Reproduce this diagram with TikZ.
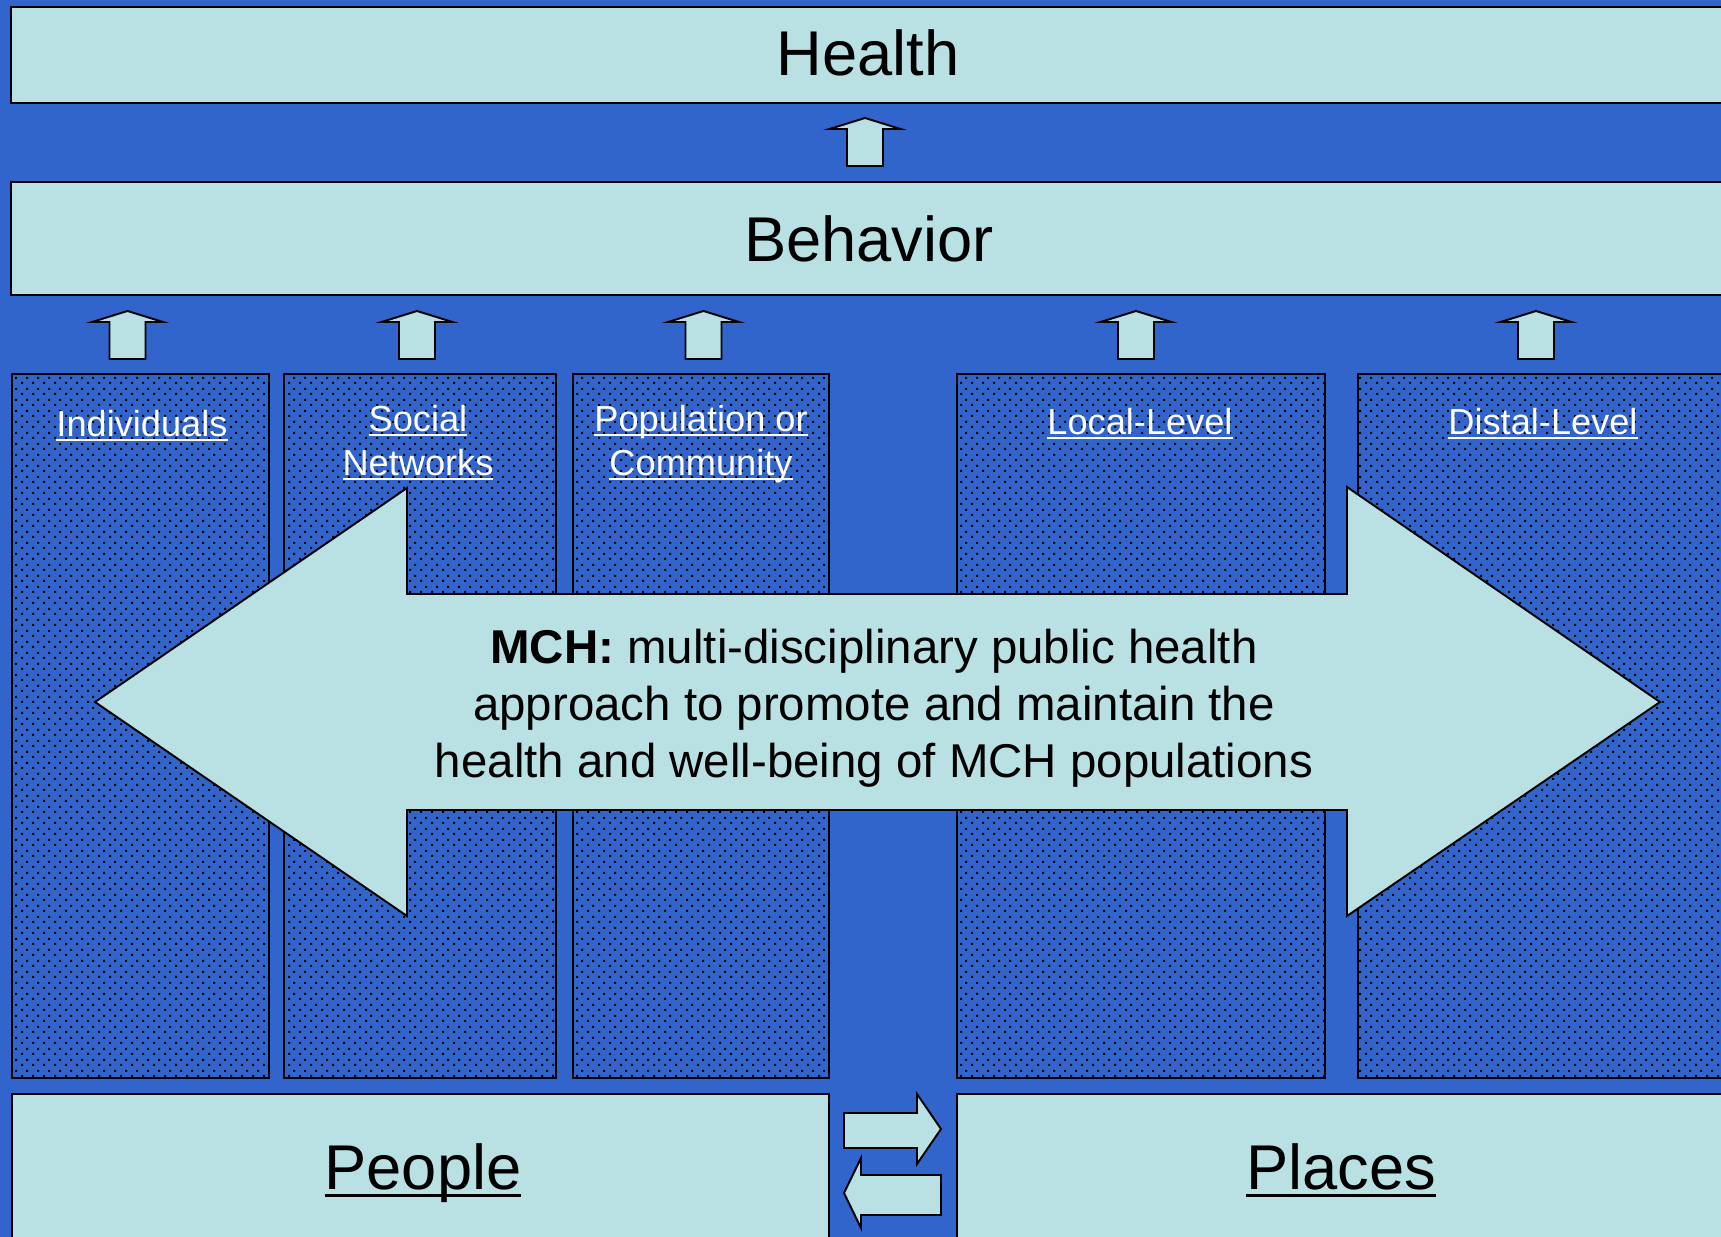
\documentclass[tikz,border=0pt]{standalone}
\usepackage{fontspec}
\setmainfont{Liberation Sans}
\usetikzlibrary{patterns}

\definecolor{mchblue}{RGB}{49,101,203}
\definecolor{mchpale}{RGB}{185,224,226}

\pgfdeclarepatternformonly{mchdots}{\pgfqpoint{0pt}{0pt}}{\pgfqpoint{6.07pt}{6.07pt}}{\pgfqpoint{6.07pt}{6.07pt}}{%
  \pgfpathrectangle{\pgfqpoint{0pt}{0pt}}{\pgfqpoint{1.2pt}{1.2pt}}%
  \pgfpathrectangle{\pgfqpoint{3.03pt}{3.03pt}}{\pgfqpoint{1.2pt}{1.2pt}}%
  \pgfusepath{fill}}

\newsavebox{\undlbox}
\newcommand{\undl}[1]{\leavevmode\sbox{\undlbox}{#1}%
  \rlap{\vrule height -0.08em depth 0.13em width \wd\undlbox}\usebox{\undlbox}}

\begin{document}
\begin{tikzpicture}[x=0.02cm,y=-0.02cm,line width=1.1pt,line join=miter,
        bar/.style={draw=black,fill=mchpale},
        column/.style={draw=black,pattern=mchdots,pattern color=black},
        blockarrow/.style={draw=black,fill=mchpale},
        title/.style={font=\fontsize{36}{40}\selectfont,anchor=base},
        level/.style={font=\fontsize{20.6}{25}\selectfont,text=white,align=center,anchor=base},
        uparrow/.pic={\draw[blockarrow] (0,0) -- (35.5,11) -- (18,11) -- (18,48)
                        -- (-18,48) -- (-18,11) -- (-35.5,11) -- cycle;}]

  \useasboundingbox[fill=mchblue] (0,0) rectangle (1721,1237);
  \clip (0,0) rectangle (1721,1237);

  % health and behavior
  \draw[bar] (11,7) rectangle (1740,103);
  \node[title] (health) at (868,76) {Health};
  \pic at (865,118) {uparrow};
  \draw[bar] (11,182) rectangle (1740,295);
  \node[title] (behavior) at (869,261) {Behavior};

  % levels
  \draw[column] (12,374) rectangle (269,1078);
  \draw[column] (284,374) rectangle (556,1078);
  \draw[column] (573,374) rectangle (829,1078);
  \draw[column] (957,374) rectangle (1325,1078);
  \draw[column] (1358,374) rectangle (1740,1078);

  \pic at (127.5,311) {uparrow};
  \pic at (417,311) {uparrow};
  \pic at (703.5,311) {uparrow};
  \pic at (1136,311) {uparrow};
  \pic at (1536,311) {uparrow};

  \node[level] (indiv) at (142,436) {\undl{Individuals}};
  \node[level] (social) at (418,475) {\undl{Social}\\\undl{Networks}};
  \node[level] (popul) at (701,475) {\undl{Population or}\\\undl{Community}};
  \node[level] (local) at (1140,434) {\undl{Local-Level}};
  \node[level] (distal) at (1543,434) {\undl{Distal-Level}};

  % MCH arrow
  \draw[blockarrow] (95,702) -- (407,488) -- (407,594) -- (1347,594) -- (1347,487)
        -- (1660,702) -- (1347,916) -- (1347,810) -- (407,810) -- (407,916) -- cycle;
  \node[font=\fontsize{27}{32.3}\selectfont,align=center,anchor=base] (mch) at (874,777)
        {\textbf{MCH:} multi-disciplinary public health\\approach to promote and maintain the\\health and well-being of MCH populations};

  % people and places
  \draw[bar] (12,1094) rectangle (829,1250);
  \draw[bar] (957,1094) rectangle (1740,1250);
  \node[title] (people) at (423,1189) {\undl{People}};
  \node[title] (places) at (1341,1189) {\undl{Places}};

  \draw[blockarrow] (844,1113) -- (917,1113) -- (917,1094) -- (941,1129) -- (917,1164)
        -- (917,1148) -- (844,1148) -- cycle;
  \draw[blockarrow] (844,1193) -- (861,1158) -- (861,1175) -- (941,1175) -- (941,1215)
        -- (861,1215) -- (861,1228) -- cycle;

\end{tikzpicture}
\end{document}
